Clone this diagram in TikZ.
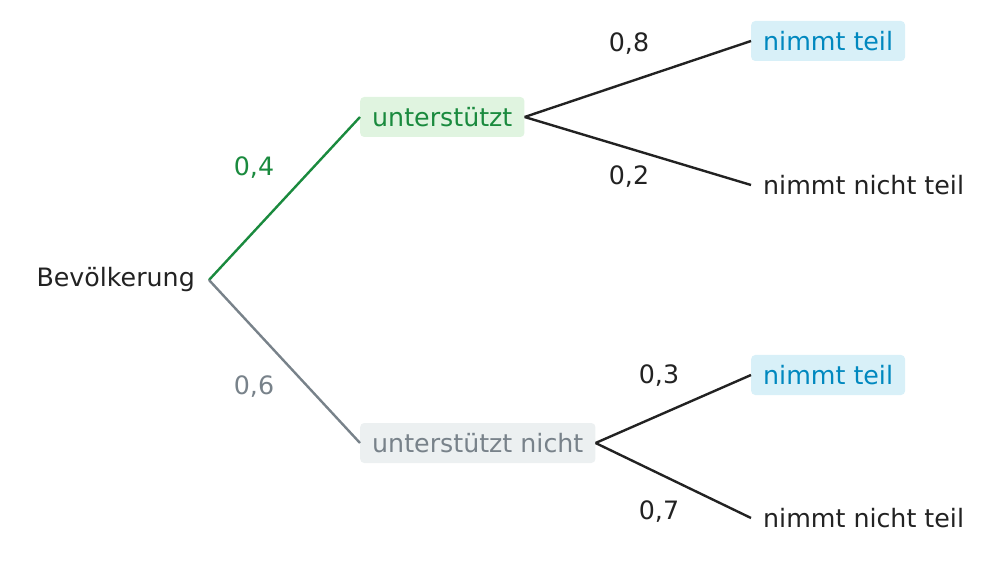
\documentclass[tikz,border=0pt]{standalone}
\usepackage{fontspec}
\setmainfont{DejaVu Sans}
\definecolor{dk}{HTML}{222222}
\definecolor{gr}{HTML}{1A8A3E}
\definecolor{grf}{HTML}{E0F4E0}
\definecolor{gy}{HTML}{78828A}
\definecolor{gyf}{HTML}{ECF0F1}
\definecolor{bl}{HTML}{0088BF}
\definecolor{blf}{HTML}{D8F0F8}
\begin{document}
\begin{tikzpicture}[x=1pt,y=-1pt,
  every node/.style={font=\fontsize{25.3}{30}\selectfont,text=dk,inner ysep=0pt,inner xsep=12pt,minimum height=40pt},
  box/.style={rounded corners=4pt},
  edge/.style={line width=2.4pt,dk},
  lab/.style={font=\fontsize{25.3}{30}\selectfont,text=dk,inner sep=0pt,minimum height=0pt}]
\useasboundingbox (0,0) rectangle (999,561);
\node[anchor=east,inner xsep=14pt] (root) at (209,280) {Bevölkerung};
\node[box,fill=grf,text=gr,anchor=west] (u) at (360,117) {unterstützt};
\node[box,fill=gyf,text=gy,anchor=west] (un) at (360,443) {unterstützt nicht};
\node[box,fill=blf,text=bl,anchor=west] (a1) at (751,41) {nimmt teil};
\node[anchor=west] (a2) at (751,185) {nimmt nicht teil};
\node[box,fill=blf,text=bl,anchor=west] (b1) at (751,375) {nimmt teil};
\node[anchor=west] (b2) at (751,518) {nimmt nicht teil};
\draw[edge,gr] (root.east) -- (u.west);
\draw[edge,gy] (root.east) -- (un.west);
\draw[edge] (u.east) -- (a1.west);
\draw[edge] (u.east) -- (a2.west);
\draw[edge] (un.east) -- (b1.west);
\draw[edge] (un.east) -- (b2.west);
\node[lab,text=gr] (l1) at (254,168) {0,4};
\node[lab,text=gy] (l2) at (254,387) {0,6};
\node[lab] (l3) at (629,44) {0,8};
\node[lab] (l4) at (629,177) {0,2};
\node[lab] (l5) at (659,376) {0,3};
\node[lab] (l6) at (659,512) {0,7};
\end{tikzpicture}
\end{document}
